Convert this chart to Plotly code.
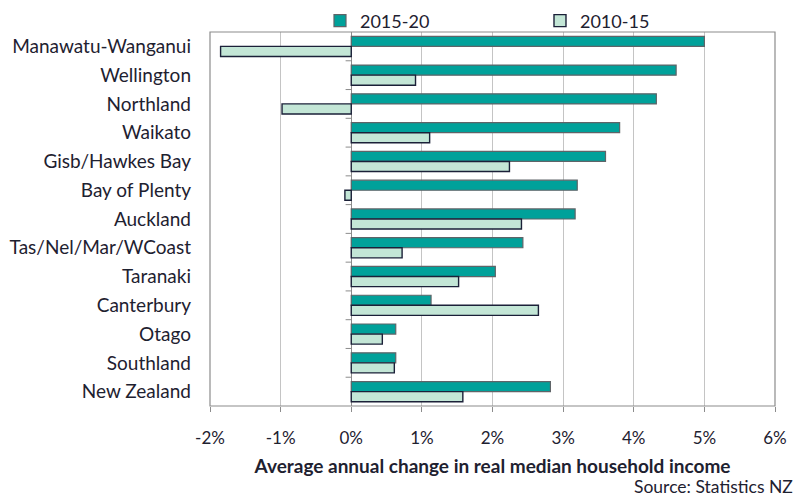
import plotly.graph_objects as go

regions = ["Manawatu-Wanganui", "Wellington", "Northland", "Waikato", "Gisb/Hawkes Bay",
           "Bay of Plenty", "Auckland", "Tas/Nel/Mar/WCoast", "Taranaki", "Canterbury",
           "Otago", "Southland", "New Zealand"]
change_2015_20 = [5.00, 4.60, 4.32, 3.80, 3.60, 3.20, 3.17, 2.43, 2.04, 1.13, 0.63, 0.63, 2.82]
change_2010_15 = [-1.85, 0.91, -0.98, 1.11, 2.24, -0.09, 2.41, 0.72, 1.52, 2.65, 0.44, 0.61, 1.58]
x_ticks = [-2, -1, 0, 1, 2, 3, 4, 5, 6]
x_tick_labels = [f"{v}%" for v in x_ticks]

FONT = "Lato"
TXT = "#1e2130"

fig = go.Figure()
fig.add_trace(go.Bar(
    y=regions, x=change_2015_20, orientation="h", name="2015-20",
    marker=dict(color="#00A19A", line=dict(color="#5f6468", width=1.2)),
))
fig.add_trace(go.Bar(
    y=regions, x=change_2010_15, orientation="h", name="2010-15",
    marker=dict(color="#C3E6D6", line=dict(color="#1b2038", width=1.4)),
))

# small tick marks on the zero line at category boundaries
shapes = []
for i in range(len(regions) - 1):
    shapes.append(dict(type="line", xref="x", yref="y", x0=-0.08, x1=0,
                       y0=i + 0.5, y1=i + 0.5, line=dict(color="#8c8c8c", width=1)))
# plot border
shapes.append(dict(type="rect", xref="paper", yref="paper", x0=0, x1=1, y0=0, y1=1,
                   line=dict(color="#8c8c8c", width=1.2), layer="above"))

fig.update_layout(
    width=804, height=498,
    margin=dict(l=210, r=29, t=32, b=92, autoexpand=False),
    paper_bgcolor="white", plot_bgcolor="white",
    barmode="group", bargap=0.3, bargroupgap=0.0,
    font=dict(family=FONT, color=TXT, size=17),
    showlegend=True,
    legend=dict(orientation="h", xref="container", yref="container",
                x=0.398, xanchor="left", y=0.958, yanchor="middle",
                font=dict(size=18, family=FONT, color=TXT), entrywidth=175,
                traceorder="normal", bgcolor="rgba(0,0,0,0)"),
    xaxis=dict(range=[-2, 6], tickvals=x_ticks, ticktext=x_tick_labels,
               showgrid=True, gridcolor="#c4c4c4", gridwidth=1,
               zeroline=True, zerolinecolor="#8c8c8c", zerolinewidth=1.2,
               ticks="outside", ticklen=5, tickcolor="#8c8c8c",
               ticklabelstandoff=12,
               tickfont=dict(size=17, family=FONT, color=TXT),
               title=dict(text="<b>Average annual change in real median household income</b>",
                          font=dict(size=19, family=FONT, color=TXT), standoff=12),
               showline=False),
    yaxis=dict(categoryorder="array", categoryarray=regions, autorange="reversed",
               showgrid=False, ticks="", ticklabelstandoff=18,
               tickfont=dict(size=19, family=FONT, color=TXT), showline=False),
    shapes=shapes,
    annotations=[dict(text="Source: Statistics NZ", xref="paper", yref="paper",
                      x=1.036, y=-0.214, xanchor="right", yanchor="middle", showarrow=False,
                      font=dict(size=17.5, family=FONT, color=TXT))],
)

fig.write_html("out.html", config={"displayModeBar": False},
               post_script="document.body.style.margin='0';")
